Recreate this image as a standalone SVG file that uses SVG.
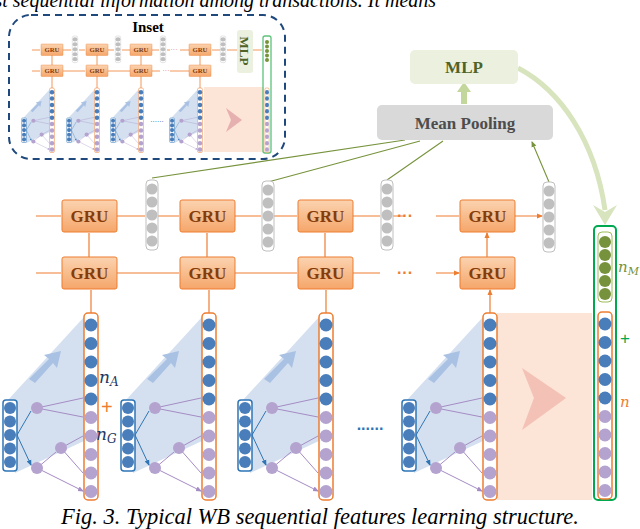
<svg xmlns="http://www.w3.org/2000/svg" xmlns:xlink="http://www.w3.org/1999/xlink" width="640" height="529" viewBox="0 0 640 529">
<style>
.gru{fill:url(#og);stroke:#ed7d31;stroke-width:1}
.gt{font-family:"Liberation Serif",serif;font-weight:bold;fill:#843c0c;text-anchor:middle}
.ol{stroke:#ed7d31;stroke-width:1.2;fill:none}
.gl{stroke:#77933c;stroke-width:1.1;fill:none}
.gv{fill:#fff;stroke:#bfbfbf;stroke-width:1}
.gc{fill:#bfbfbf}
.lab{font-family:"DejaVu Serif",serif;font-style:italic}
</style>
<defs>
<linearGradient id="og" x1="0" y1="0" x2="0" y2="1"><stop offset="0" stop-color="#fbd3b0"/><stop offset="1" stop-color="#f5a66a"/></linearGradient>
<marker id="oa" markerWidth="6" markerHeight="6" refX="5" refY="3" orient="auto" markerUnits="userSpaceOnUse"><path d="M0,0.5L6,3L0,5.5z" fill="#ed7d31"/></marker>
<marker id="ga" markerWidth="6" markerHeight="6" refX="5" refY="3" orient="auto" markerUnits="userSpaceOnUse"><path d="M0,0.5L6,3L0,5.5z" fill="#77933c"/></marker>
<marker id="ba" markerWidth="6" markerHeight="6" refX="5" refY="3" orient="auto" markerUnits="userSpaceOnUse"><path d="M0,0.5L6,3L0,5.5z" fill="#2e75b6"/></marker>
<marker id="pa" markerWidth="6" markerHeight="6" refX="5" refY="3" orient="auto" markerUnits="userSpaceOnUse"><path d="M0,0.5L6,3L0,5.5z" fill="#a58cc4"/></marker>
<g id="col">
<rect x="-7" y="0" width="14" height="187" rx="4" fill="#fff" stroke="#ed7d31" stroke-width="1.5"/>
<g fill="#4a7ebb"><circle cx="0" cy="12" r="6.5"/><circle cx="0" cy="30.5" r="6.5"/><circle cx="0" cy="49" r="6.5"/><circle cx="0" cy="67.5" r="6.5"/><circle cx="0" cy="86" r="6.5"/></g>
<g fill="#b4a2cf"><circle cx="0" cy="104.5" r="6.5"/><circle cx="0" cy="123" r="6.5"/><circle cx="0" cy="141.5" r="6.5"/><circle cx="0" cy="160" r="6.5"/><circle cx="0" cy="178.5" r="6.5"/></g>
</g>
<g id="unit">
<polygon points="-84,88 -7,4 -7,128 -76,160" fill="#c9d8ec" opacity="0.8"/>
<path d="M-62,66 L-42,46 L-47,42 L-30,38 L-34,55 L-38,50 L-56,70z" fill="#a9c1e3"/>
<rect x="-88" y="87" width="14" height="71" rx="3" fill="#fff" stroke="#2e75b6" stroke-width="1.5"/>
<g fill="#4a7ebb"><circle cx="-81" cy="95" r="6"/><circle cx="-81" cy="108.5" r="6"/><circle cx="-81" cy="122" r="6"/><circle cx="-81" cy="135.5" r="6"/><circle cx="-81" cy="149" r="6"/></g>
<path d="M-74,122L-60,98M-74,122L-60,152" stroke="#2e75b6" stroke-width="1" marker-end="url(#ba)"/>
<path d="M-54,95L-8,85M-54,95L-8,104M-30,135L-8,123M-30,135L-8,160M-54,155L-35,139M-54,155L-8,178" stroke="#a58cc4" stroke-width="1" marker-end="url(#pa)"/>
<g fill="#b4a2cf"><circle cx="-54" cy="95" r="6"/><circle cx="-54" cy="155" r="6"/><circle cx="-30" cy="135" r="6"/></g>
<use xlink:href="#col"/>
</g>
<g id="gvec">
<rect x="-6" y="0" width="12" height="70" rx="4" class="gv"/>
<g class="gc"><circle cx="0" cy="9" r="5.5"/><circle cx="0" cy="22" r="5.5"/><circle cx="0" cy="35" r="5.5"/><circle cx="0" cy="48" r="5.5"/><circle cx="0" cy="61" r="5.5"/></g>
</g>
<g id="grubox"><rect x="0" y="0" width="55" height="32" rx="2" class="gru"/><text x="27.5" y="22" class="gt" font-size="17">GRU</text></g>
</defs>

<text x="-30" y="7" font-family="Liberation Serif,serif" font-size="20" font-style="italic">most sequential information among transactions. It means</text>

<g id="inset">
<rect x="9" y="15" width="276" height="144" rx="22" fill="none" stroke="#1f497d" stroke-width="2" stroke-dasharray="7,5"/>
<text x="148" y="32" font-family="Liberation Serif,serif" font-weight="bold" font-size="15" text-anchor="middle">Inset</text>
<rect x="204" y="87" width="60" height="65" fill="#fce4d6"/>
<path d="M226,108 L242,120 L226,132 L231,120z" fill="#e6b0b0"/>
<g transform="translate(52,88) scale(0.345)"><use xlink:href="#unit"/></g>
<g transform="translate(97,88) scale(0.345)"><use xlink:href="#unit"/></g>
<g transform="translate(141,88) scale(0.345)"><use xlink:href="#unit"/></g>
<g transform="translate(200,88) scale(0.345)"><use xlink:href="#unit"/></g>
<text x="157" y="122" font-family="Liberation Sans,sans-serif" font-size="8" fill="#2e75b6" text-anchor="middle">......</text>
<g stroke="#ed7d31" stroke-width="0.8" fill="none">
<path d="M32,50H40M62,50H71M79,50H85M107,50H114M122,50H130M152,50H159M167,50H170M180,50H190M212,50H220M227,50H237M253,50H262"/>
<path d="M32,71H40M62,71H85M107,71H130M152,71H160M170,71H190M52,76V88M97,76V88M141,76V88M200,76V88M52,66V55M97,66V55M141,66V55M200,66V55"/>
</g>
<text x="174" y="52" font-family="Liberation Sans,sans-serif" font-size="7" fill="#ed7d31" text-anchor="middle">···</text>
<text x="166" y="73" font-family="Liberation Sans,sans-serif" font-size="7" fill="#ed7d31" text-anchor="middle">···</text>
<g font-size="6">
<use xlink:href="#grubox" transform="translate(41,44) scale(0.4,0.36)"/>
<use xlink:href="#grubox" transform="translate(86,44) scale(0.4,0.36)"/>
<use xlink:href="#grubox" transform="translate(130,44) scale(0.4,0.36)"/>
<use xlink:href="#grubox" transform="translate(189,44) scale(0.4,0.36)"/>
<use xlink:href="#grubox" transform="translate(41,65) scale(0.4,0.36)"/>
<use xlink:href="#grubox" transform="translate(86,65) scale(0.4,0.36)"/>
<use xlink:href="#grubox" transform="translate(130,65) scale(0.4,0.36)"/>
<use xlink:href="#grubox" transform="translate(189,65) scale(0.4,0.36)"/>
</g>
<g transform="translate(75,36) scale(0.45,0.38)"><use xlink:href="#gvec"/></g>
<g transform="translate(118,36) scale(0.45,0.38)"><use xlink:href="#gvec"/></g>
<g transform="translate(163,36) scale(0.45,0.38)"><use xlink:href="#gvec"/></g>
<g transform="translate(223,36) scale(0.45,0.38)"><use xlink:href="#gvec"/></g>
<rect x="237" y="30" width="16" height="43" rx="3" fill="#ebf1de"/>
<text transform="translate(240,51) rotate(90)" font-family="Liberation Serif,serif" font-weight="bold" font-size="13" fill="#4f6228" text-anchor="middle">MLP</text>
<rect x="263" y="36" width="8" height="117" rx="2" fill="none" stroke="#5cc27a" stroke-width="1.3"/>
<g fill="#77933c"><circle cx="267" cy="42" r="2"/><circle cx="267" cy="46.5" r="2"/><circle cx="267" cy="51" r="2"/><circle cx="267" cy="55.5" r="2"/><circle cx="267" cy="60" r="2"/></g>
<g transform="translate(267,88) scale(0.3,0.345)"><use xlink:href="#col"/></g>
</g>

<g id="pink"><rect x="497" y="313" width="95" height="187" fill="#fce4d6"/>
<path d="M522,368 L566,398 L522,430 L534,398z" fill="#f0b8ac" opacity="0.8"/></g>

<g id="units">
<g transform="translate(91,313)"><use xlink:href="#unit"/></g>
<g transform="translate(209,313)"><use xlink:href="#unit"/></g>
<g transform="translate(326,313)"><use xlink:href="#unit"/></g>
<g transform="translate(490,313)"><use xlink:href="#unit"/></g>
</g>
<text x="370" y="430" font-family="Liberation Sans,sans-serif" font-size="16" font-weight="bold" fill="#2e75b6" text-anchor="middle">......</text>

<g id="connectors">
<g class="ol" marker-end="url(#oa)">
<path d="M36,216H61M117,216H145M158,216H179M235,216H261M274,216H297M353,216H380M393,216H405M436,216H459M515,216H542"/>
<path d="M36,273H61M117,273H179M235,273H297M353,273H380M436,273H459"/>
<path d="M89,257V233M207,257V233M325,257V233M487,257V233"/>
<path d="M91,313V290M209,313V290M326,313V290M490,313V290"/>
</g>
<g class="gl" marker-end="url(#ga)">
<path d="M152,178L405,140M268,182L420,141M387,180L443,141M549,182L532,142"/>
</g>
<path d="M464,104V90" stroke="#c3d69b" stroke-width="6" fill="none"/>
<path d="M457,92L464,82L471,92z" fill="#c3d69b"/>
<path d="M518,68 C560,90 595,140 605,210" stroke="#d7e4bd" stroke-width="5" fill="none"/>
<path d="M593,205L605,225L617,205L605,212z" fill="#d7e4bd"/>
</g>
<text x="405" y="221" font-family="Liberation Sans,sans-serif" font-size="16" font-weight="bold" fill="#ed7d31" text-anchor="middle">···</text>
<text x="405" y="278" font-family="Liberation Sans,sans-serif" font-size="16" font-weight="bold" fill="#ed7d31" text-anchor="middle">···</text>

<g id="gru-nodes">
<use xlink:href="#grubox" transform="translate(62,200)"/>
<use xlink:href="#grubox" transform="translate(180,200)"/>
<use xlink:href="#grubox" transform="translate(298,200)"/>
<use xlink:href="#grubox" transform="translate(460,200)"/>
<use xlink:href="#grubox" transform="translate(62,257)"/>
<use xlink:href="#grubox" transform="translate(180,257)"/>
<use xlink:href="#grubox" transform="translate(298,257)"/>
<use xlink:href="#grubox" transform="translate(460,257)"/>
</g>
<g id="gvecs">
<use xlink:href="#gvec" transform="translate(152,180)"/>
<use xlink:href="#gvec" transform="translate(268,181)"/>
<use xlink:href="#gvec" transform="translate(387,180)"/>
<use xlink:href="#gvec" transform="translate(549,182)"/>
</g>

<g id="mean-pooling"><rect x="377" y="105" width="176" height="35" rx="5" fill="#d9d9d9"/>
<text x="465" y="129" font-family="Liberation Serif,serif" font-weight="bold" font-size="17" fill="#4d4d4d" text-anchor="middle">Mean Pooling</text></g>
<g id="mlp"><rect x="410" y="50" width="108" height="34" rx="5" fill="#ebf1de"/>
<text x="464" y="73" font-family="Liberation Serif,serif" font-weight="bold" font-size="17" fill="#4f6228" text-anchor="middle">MLP</text></g>

<g id="output">
<rect x="594" y="226" width="22" height="274" rx="4" fill="#fff" stroke="#00a84f" stroke-width="2"/>
<rect x="598" y="232" width="14" height="70" rx="4" fill="#fff" stroke="#9bbb59" stroke-width="1"/>
<g fill="#76923c"><circle cx="605" cy="242" r="6"/><circle cx="605" cy="255" r="6"/><circle cx="605" cy="268" r="6"/><circle cx="605" cy="281" r="6"/><circle cx="605" cy="294" r="6"/></g>
<g transform="translate(605,312)"><use xlink:href="#col"/></g>
</g>

<g id="labels">
<text x="99" y="383" class="lab" font-size="17" fill="#1f3864">n<tspan font-size="12" dy="3">A</tspan></text>
<text x="101" y="414" font-family="Liberation Sans,sans-serif" font-size="20" fill="#ed7d31">+</text>
<text x="96" y="440" class="lab" font-size="17" fill="#1f3864">n<tspan font-size="12" dy="3">G</tspan></text>
<text x="618" y="272" class="lab" font-size="15" fill="#76923c">n<tspan font-size="11" dy="3">M</tspan></text>
<text x="620" y="344" font-family="Liberation Sans,sans-serif" font-size="17" fill="#00a84f">+</text>
<text x="620" y="407" class="lab" font-size="15" fill="#ed7d31">n</text>
</g>

<text x="320" y="524" font-family="Liberation Serif,serif" font-style="italic" font-size="22.5" text-anchor="middle">Fig. 3. Typical WB sequential features learning structure.</text>
</svg>
